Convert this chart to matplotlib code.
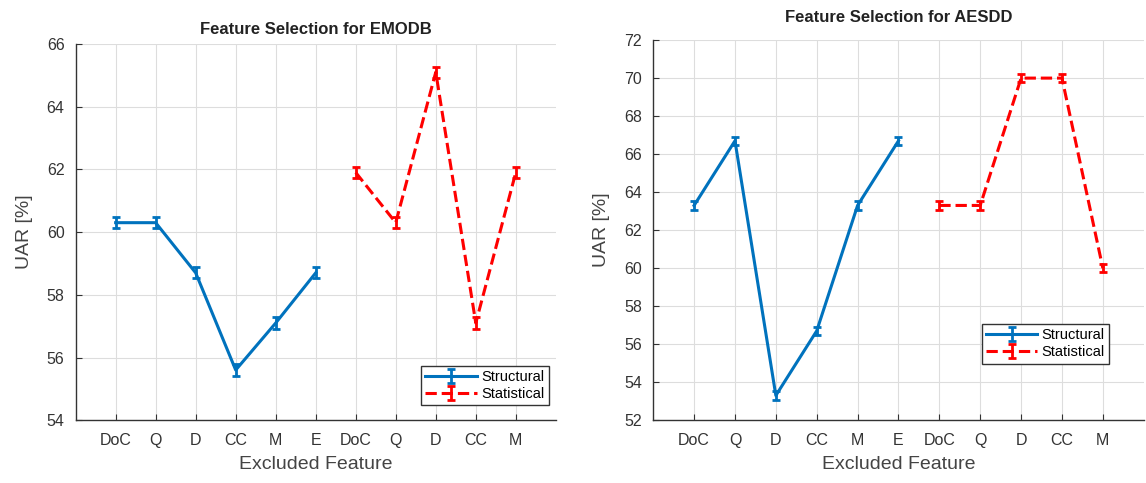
import matplotlib.pyplot as plt

plt.rcParams['font.family'] = ['Liberation Sans', 'DejaVu Sans']

# x 위치 라벨
struct_labels = ['DoC', 'Q', 'D', 'CC', 'M', 'E']
stat_labels = ['DoC', 'Q', 'D', 'CC', 'M']

# EMODB
emodb_struct = [60.3, 60.3, 58.7, 55.6, 57.1, 58.7]
emodb_stat = [61.9, 60.3, 65.1, 57.1, 61.9]
emodb_err = 0.18

# AESDD
aesdd_struct = [63.3, 66.7, 53.3, 56.7, 63.3, 66.7]
aesdd_stat = [63.3, 63.3, 70.0, 70.0, 60.0]
aesdd_err = 0.22

blue = '#0072BD'
red = '#FF0000'

fig = plt.figure(figsize=(11.46, 4.83), dpi=100)
ax1 = fig.add_axes([0.066, 0.130, 0.419, 0.779])
ax2 = fig.add_axes([0.570, 0.130, 0.428, 0.787])


def draw(ax, s_vals, t_vals, err, title, ylim, yticks, title_pad, leg_anchor):
    xs = list(range(1, len(s_vals) + 1))
    xt = list(range(len(s_vals) + 1, len(s_vals) + len(t_vals) + 1))
    ax.errorbar(xs, s_vals, yerr=err, color=blue, lw=2.2, capsize=3,
                capthick=2, elinewidth=2, label='Structural')
    ax.errorbar(xt, t_vals, yerr=err, color=red, lw=2.2, ls='--', capsize=3,
                capthick=2, elinewidth=2, label='Statistical')
    ax.set_xlim(0, 12)
    ax.set_ylim(*ylim)
    ax.set_yticks(yticks)
    ax.set_xticks(xs + xt)
    ax.set_xticklabels(struct_labels + stat_labels)
    ax.grid(True, color='#dddddd', lw=0.8)
    ax.set_axisbelow(True)
    for side in ['top', 'right']:
        ax.spines[side].set_visible(False)
    for side in ['left', 'bottom']:
        ax.spines[side].set_color('#333333')
        ax.spines[side].set_linewidth(1.0)
    ax.tick_params(direction='in', length=4, labelsize=11.5, colors='#333333',
                   labelcolor='#333333')
    ax.tick_params(axis='x', pad=9)
    ax.tick_params(axis='y', pad=8)
    ax.set_xlabel('Excluded Feature', fontsize=14, color='#444444', labelpad=6)
    ax.set_ylabel('UAR [%]', fontsize=14, color='#444444', labelpad=10)
    ax.set_title(title, fontsize=12, fontweight='bold', color='#222222',
                 pad=title_pad)
    leg = ax.legend(loc='lower right', fontsize=10.5, fancybox=False,
                    framealpha=1, borderpad=0.3, handlelength=3.5,
                    handletextpad=0.3, labelspacing=0.2,
                    bbox_to_anchor=leg_anchor)
    leg.get_frame().set_edgecolor('#333333')


draw(ax1, emodb_struct, emodb_stat, emodb_err, 'Feature Selection for EMODB',
     (54, 66), range(54, 67, 2), 7, (1.0, 0.02))
draw(ax2, aesdd_struct, aesdd_stat, aesdd_err, 'Feature Selection for AESDD',
     (52, 72), range(52, 73, 2), 13, (0.945, 0.13))

plt.savefig('out.png', dpi=100)
plt.close()
